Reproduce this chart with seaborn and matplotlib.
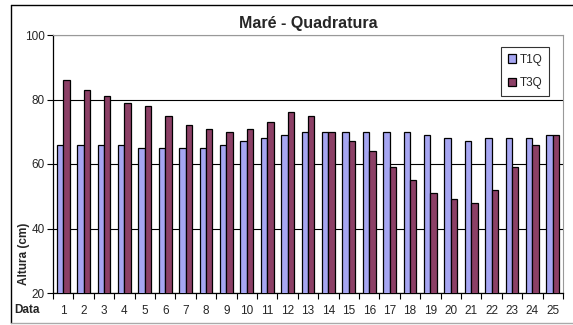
import matplotlib
matplotlib.use("Agg")
import matplotlib.pyplot as plt
from matplotlib.lines import Line2D
from matplotlib.ticker import FixedLocator
import numpy as np
import pandas as pd
import seaborn as sns

# Tide height per survey day
datas = list(range(1, 26))
t1q = [66, 66, 66, 66, 65, 65, 65, 65, 66, 67, 68, 69, 70, 70, 70, 70, 70, 70, 69, 68, 67, 68, 68, 68, 69]
t3q = [86, 83, 81, 79, 78, 75, 72, 71, 70, 71, 73, 76, 75, 70, 67, 64, 59, 55, 51, 49, 48, 52, 59, 66, 69]
series = ["T1Q", "T3Q"]
cores = {"T1Q": "#9999FF", "T3Q": "#993366"}

df = pd.DataFrame({
    "Data": [str(d) for d in datas] * 2,
    "Altura": t1q + t3q,
    "Serie": [series[0]] * len(datas) + [series[1]] * len(datas),
})

sns.set_theme(style="white")
plt.rcParams["font.family"] = ["Liberation Sans", "DejaVu Sans"]

fig = plt.figure(figsize=(5.73, 3.25), dpi=100)
ax = fig.add_axes([53 / 573, 32 / 325, 510 / 573, 258 / 325])

sns.barplot(data=df, x="Data", y="Altura", hue="Serie", palette=cores,
            width=0.62, gap=0, edgecolor="black", linewidth=0.9,
            ax=ax, legend=True, zorder=3)

ax.set_ylim(20, 100)
ax.set_xlim(-0.5, len(datas) - 0.5)
ax.set_yticks([20, 40, 60, 80, 100])
ax.yaxis.grid(True, color="black", linewidth=0.8, zorder=0)
ax.set_axisbelow(True)

ax.tick_params(axis="y", which="major", labelsize=8.5, length=4, width=0.8,
               color="black", left=True, pad=2)
ax.tick_params(axis="x", which="major", labelsize=8.5, length=0, pad=9)
ax.xaxis.set_minor_locator(FixedLocator(np.arange(-0.5, len(datas), 1.0)))
ax.tick_params(axis="x", which="minor", length=4, width=0.8, color="black",
               bottom=True)

for side in ("top", "right"):
    ax.spines[side].set_color("#999999")
    ax.spines[side].set_linewidth(0.8)
for side in ("left", "bottom"):
    ax.spines[side].set_color("black")
    ax.spines[side].set_linewidth(0.9)

ax.set_xlabel("")
ax.set_ylabel("Altura (cm)", fontsize=8.5, fontweight="bold")
ax.yaxis.set_label_coords(-0.046, 0.15)
ax.set_title("Maré - Quadratura", fontsize=11.5, fontweight="bold", pad=5)
fig.text(14 / 573, 1 - 310 / 325, "Data", fontsize=8.5, fontweight="bold",
         ha="left", va="center")

leg = ax.legend(loc="upper right", bbox_to_anchor=(0.9725, 0.953),
                borderaxespad=0, fontsize=8.5,
                frameon=True, fancybox=False, edgecolor="black",
                handlelength=0.7, handleheight=0.7, handletextpad=0.3,
                labelspacing=1.0, borderpad=0.55)
leg.get_frame().set_linewidth(0.8)

# Outer chart frame
fig.add_artist(Line2D([11 / 573, 11 / 573], [2 / 325, 320 / 325],
                      color="black", linewidth=1.0, transform=fig.transFigure))
fig.add_artist(Line2D([11 / 573, 1.0], [320 / 325, 320 / 325],
                      color="black", linewidth=1.0, transform=fig.transFigure))
fig.add_artist(Line2D([11 / 573, 1.0], [2 / 325, 2 / 325],
                      color="#aaaaaa", linewidth=1.0, transform=fig.transFigure))

fig.savefig("out.png", dpi=100)
